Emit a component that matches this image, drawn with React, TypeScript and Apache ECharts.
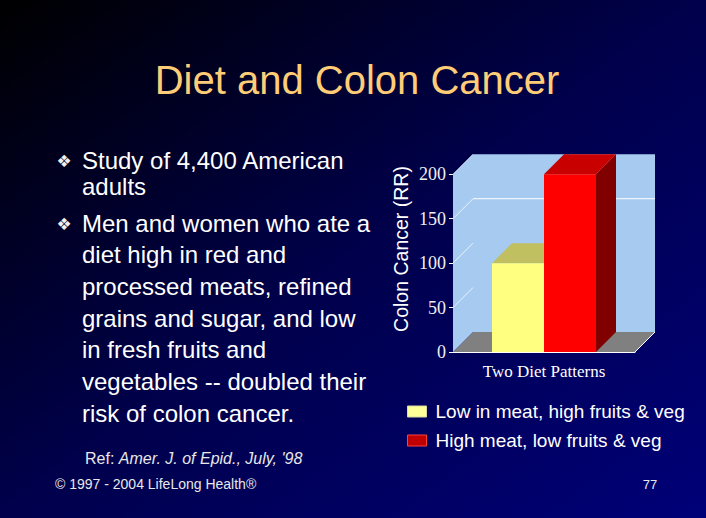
import React, { useEffect, useRef } from "react";
import * as echarts from "echarts";

// ---- data ----
const categories = ["Two Diet Patterns"];
const seriesNames = ["Low in meat, high fruits & veg", "High meat, low fruits & veg"];
const lowMeatValues = [100];
const highMeatValues = [200];
const yTickValues = [0, 50, 100, 150, 200];
const titleText = "Diet and Colon Cancer";
const yAxisTitle = "Colon Cancer (RR)";
const bullet1Lines = ["Study of 4,400 American", "adults"];
const bullet2Lines = [
  "Men and women who ate a",
  "diet high in red and",
  "processed meats, refined",
  "grains and sugar, and low",
  "in fresh fruits and",
  "vegetables -- doubled their",
  "risk of colon cancer.",
];
const refPrefix = "Ref: ";
const refSource = "Amer. J. of Epid., July, '98";
const copyrightText = "© 1997 - 2004 LifeLong Health®";
const pageNumber = "77";

// ---- style constants ----
const D = 20; // 3D depth offset
const BAR_RATIO = 0.2857;
const barColors = [
  { front: "#ffff80", top: "#c0c060", side: "#808040", legend: "#ffff99" },
  { front: "#ff0000", top: "#c80000", side: "#800000", legend: "#c00000" },
];

function makeBarRenderer(index: number) {
  const c = barColors[index];
  return (params: any, api: any) => {
    const cat = api.value(0);
    const val = api.value(1);
    const top = api.coord([cat, val]);
    const base = api.coord([cat, 0]);
    const band = api.size([1, 0])[0];
    const w = band * BAR_RATIO;
    const x0 = top[0] - w + index * w;
    const yT = top[1];
    const yB = base[1];
    return {
      type: "group",
      children: [
        {
          type: "polygon",
          shape: { points: [[x0 + w, yT], [x0 + w + D, yT - D], [x0 + w + D, yB - D], [x0 + w, yB]] },
          style: { fill: c.side },
        },
        {
          type: "polygon",
          shape: { points: [[x0, yT], [x0 + D, yT - D], [x0 + w + D, yT - D], [x0 + w, yT]] },
          style: { fill: c.top },
        },
        {
          type: "rect",
          shape: { x: x0, y: yT, width: w, height: yB - yT },
          style: { fill: c.front },
        },
      ],
    };
  };
}

function renderWalls(params: any, api: any) {
  const cs = params.coordSys;
  const L = cs.x;
  const R = cs.x + cs.width;
  const T = cs.y;
  const B = cs.y + cs.height;
  const children: any[] = [
    {
      type: "polygon",
      shape: { points: [[L, B], [L + D, B - D], [R + D, B - D], [R, B]] },
      style: { fill: "#808080" },
    },
    {
      type: "polygon",
      shape: { points: [[L, B], [L + D, B - D], [L + D, T - D], [L, T]] },
      style: { fill: "#a6caf0" },
    },
    {
      type: "rect",
      shape: { x: L + D, y: T - D, width: R - L, height: B - T },
      style: { fill: "#a6caf0" },
    },
    {
      type: "line",
      shape: { x1: R, y1: B, x2: R + D, y2: B - D },
      style: { stroke: "#ffffff", lineWidth: 1 },
    },
  ];
  yTickValues.forEach((v) => {
    if (v === 0) return;
    const y = api.coord([0, v])[1];
    children.push({
      type: "line",
      shape: { x1: L, y1: y, x2: L + D, y2: y - D },
      style: { stroke: "rgba(255,255,255,0.75)", lineWidth: 1 },
    });
    if (v === 150) {
      children.push({
        type: "line",
        shape: { x1: L + D, y1: y - D, x2: R + D, y2: y - D },
        style: { stroke: "#ffffff", lineWidth: 1 },
      });
    }
  });
  return { type: "group", children };
}

export default function App() {
  const ref = useRef<HTMLDivElement>(null);

  useEffect(() => {
    document.body.style.margin = "0";
    if (!ref.current) return;
    const chart = echarts.init(ref.current, null, { renderer: "svg" });

    const sans = "Liberation Sans, Arial, sans-serif";
    const serif = "Liberation Serif, Times New Roman, serif";

    const graphics: any[] = [];
    graphics.push({
      type: "text",
      x: 357,
      y: 80,
      style: {
        text: titleText,
        fill: "#ffcc77",
        font: `40px ${sans}`,
        textAlign: "center",
        textVerticalAlign: "middle",
      },
    });
    const bulletYs = [161, 224];
    bulletYs.forEach((y) => {
      graphics.push({
        type: "text",
        x: 64,
        y,
        style: {
          text: "❖",
          fill: "#f0f0f0",
          font: `17px DejaVu Sans, sans-serif`,
          textAlign: "center",
          textVerticalAlign: "middle",
        },
      });
    });
    const b1Y = [160, 186.5];
    bullet1Lines.forEach((t, i) => {
      graphics.push({
        type: "text",
        x: 82,
        y: b1Y[i],
        style: { text: t, fill: "#ffffff", font: `24px ${sans}`, textAlign: "left", textVerticalAlign: "middle" },
      });
    });
    bullet2Lines.forEach((t, i) => {
      graphics.push({
        type: "text",
        x: 82,
        y: 223 + i * 31.7,
        style: { text: t, fill: "#ffffff", font: `24px ${sans}`, textAlign: "left", textVerticalAlign: "middle" },
      });
    });
    graphics.push({
      type: "text",
      x: 85,
      y: 458,
      style: {
        text: `{r|${refPrefix}}{i|${refSource}}`,
        textVerticalAlign: "middle",
        rich: {
          r: { fill: "#e8e8e8", font: `16px ${sans}` },
          i: { fill: "#e8e8e8", font: `italic 16px ${sans}` },
        },
      },
    });
    graphics.push({
      type: "text",
      x: 55,
      y: 484,
      style: { text: copyrightText, fill: "#e8e8e8", font: `14px ${sans}`, textAlign: "left", textVerticalAlign: "middle" },
    });
    graphics.push({
      type: "text",
      x: 650,
      y: 484,
      style: { text: pageNumber, fill: "#e8e8e8", font: `13px ${sans}`, textAlign: "center", textVerticalAlign: "middle" },
    });
    graphics.push({
      type: "text",
      x: 401,
      y: 249,
      rotation: Math.PI / 2,
      style: {
        text: yAxisTitle,
        fill: "#ffffff",
        font: `19.5px ${sans}`,
        textAlign: "center",
        textVerticalAlign: "middle",
      },
    });

    chart.setOption({
      animation: false,
      backgroundColor: new echarts.graphic.LinearGradient(0, 0, 1, 1, [
        { offset: 0, color: "#000000" },
        { offset: 0.5, color: "#00004c" },
        { offset: 1, color: "#000078" },
      ]),
      grid: { left: 453, right: 71, top: 174.3, bottom: 166, containLabel: false },
      xAxis: {
        type: "category",
        data: categories,
        axisLine: { show: true, lineStyle: { color: "#ffffff", width: 1 } },
        axisTick: { show: false },
        axisLabel: { color: "#ffffff", fontFamily: serif, fontSize: 17, margin: 11 },
        splitLine: { show: false },
      },
      yAxis: {
        type: "value",
        min: 0,
        max: 200,
        interval: 50,
        axisLine: { show: false },
        axisTick: { show: true, length: 4, lineStyle: { color: "#ffffff" } },
        axisLabel: { color: "#f0f0f0", fontFamily: serif, fontSize: 18, margin: 7 },
        splitLine: { show: false },
      },
      legend: {
        orient: "vertical",
        left: 407,
        top: 402,
        padding: 0,
        itemWidth: 19,
        itemHeight: 11,
        itemGap: 10,
        icon: "rect",
        textStyle: { color: "#ffffff", fontSize: 19, fontFamily: sans, lineHeight: 19, padding: [0, 0, 0, 4] },
        data: [
          { name: seriesNames[0], itemStyle: { color: barColors[0].legend, borderColor: "#d8d8a0", borderWidth: 1 } },
          { name: seriesNames[1], itemStyle: { color: barColors[1].legend, borderColor: "#ff4040", borderWidth: 1 } },
        ],
      },
      graphic: graphics,
      series: [
        {
          type: "custom",
          name: "walls",
          z: 1,
          silent: true,
          renderItem: renderWalls,
          data: [[0, 0]],
          encode: { x: 0, y: 1 },
        },
        {
          type: "custom",
          name: seriesNames[0],
          z: 2,
          itemStyle: { color: barColors[0].front },
          renderItem: makeBarRenderer(0),
          data: lowMeatValues.map((v, i) => [i, v]),
          encode: { x: 0, y: 1 },
        },
        {
          type: "custom",
          name: seriesNames[1],
          z: 3,
          itemStyle: { color: barColors[1].front },
          renderItem: makeBarRenderer(1),
          data: highMeatValues.map((v, i) => [i, v]),
          encode: { x: 0, y: 1 },
        },
      ],
    });

    return () => chart.dispose();
  }, []);

  return <div ref={ref} style={{ width: 706, height: 518 }} />;
}
